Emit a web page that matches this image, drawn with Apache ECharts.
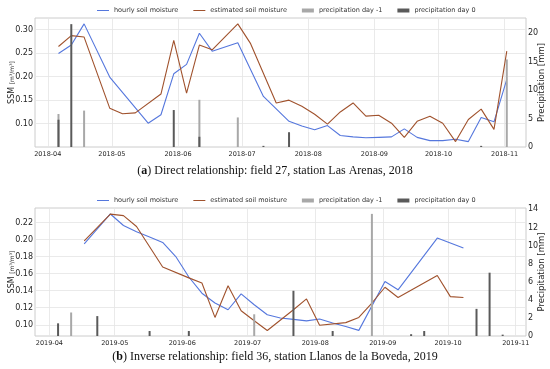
<!DOCTYPE html>
<html><head><meta charset="utf-8">
<script src="https://cdn.jsdelivr.net/npm/echarts@6/dist/echarts.min.js"></script>
<style>html,body{margin:0;padding:0;background:#fff}#c{width:550px;height:369px}</style>
</head><body><div id="c"></div>
<script>
// ---------- 2018 (a) ----------
const dates2018 = ['2018-04-06','2018-04-12','2018-04-18','2018-04-24','2018-04-30','2018-05-06','2018-05-12','2018-05-18','2018-05-24','2018-05-30','2018-06-05','2018-06-11','2018-06-17','2018-06-23','2018-06-29','2018-07-05','2018-07-11','2018-07-17','2018-07-23','2018-07-29','2018-08-04','2018-08-10','2018-08-16','2018-08-22','2018-08-28','2018-09-03','2018-09-09','2018-09-15','2018-09-21','2018-09-27','2018-10-03','2018-10-09','2018-10-15','2018-10-21','2018-10-27','2018-11-02'];
const hourly2018 = [0.249,0.267,0.312,null,0.199,null,null,0.101,0.119,0.206,0.226,0.292,0.254,null,0.272,null,0.158,null,0.105,0.095,0.087,0.096,0.075,0.072,0.070,0.071,0.072,0.089,0.071,0.064,0.064,0.067,0.062,0.113,0.104,0.194];
const estimated2018 = [0.264,0.287,0.284,null,0.133,0.121,0.123,null,0.163,0.277,0.165,0.267,0.257,null,0.312,0.270,null,0.144,0.150,0.137,0.120,0.099,0.125,0.144,0.116,0.118,0.101,0.071,0.105,0.116,0.101,0.062,0.109,0.131,0.088,0.254];
const precipPrevDates2018 = ['2018-04-06','2018-04-18','2018-06-11','2018-06-29','2018-11-02'];
const precipPrev2018 = [5.8,6.4,8.3,5.2,15.4];
const precipDayDates2018 = ['2018-04-06','2018-04-12','2018-05-30','2018-06-11','2018-07-11','2018-07-23','2018-10-21'];
const precipDay2018 = [4.8,21.6,6.5,1.8,0.2,2.6,0.2];
const monthTicks2018 = ['2018-04-01','2018-05-01','2018-06-01','2018-07-01','2018-08-01','2018-09-01','2018-10-01','2018-11-01'];
const ssmTicks2018 = [0.10,0.15,0.20,0.25,0.30];
const precipTicks2018 = [0,5,10,15,20];

// ---------- 2019 (b) ----------
const dates2019 = ['2019-04-17','2019-04-23','2019-04-29','2019-05-05','2019-05-11','2019-05-17','2019-05-23','2019-05-29','2019-06-04','2019-06-10','2019-06-16','2019-06-22','2019-06-28','2019-07-04','2019-07-10','2019-07-16','2019-07-22','2019-07-28','2019-08-03','2019-08-09','2019-08-15','2019-08-21','2019-08-27','2019-09-02','2019-09-08','2019-09-14','2019-09-20','2019-09-26','2019-10-02','2019-10-08'];
const hourly2019 = [0.195,null,0.230,0.2165,0.209,0.203,0.1966,0.180,0.156,0.137,0.1255,0.1176,0.1363,0.1235,0.1117,0.108,0.1063,0.1045,0.1067,0.102,0.098,0.0934,null,0.1508,0.141,null,null,0.2017,null,0.190];
const estimated2019 = [0.1985,null,0.2298,0.228,0.2153,null,0.1677,null,0.155,0.149,0.1086,0.1457,0.1164,0.1047,0.0933,null,0.1176,0.1303,0.0995,null,0.1025,0.1086,0.1255,0.144,0.132,null,null,0.1578,0.133,0.132];
const precipPrevDates2019 = ['2019-04-11','2019-07-04','2019-08-27'];
const precipPrev2019 = [2.6,2.4,13.5];
const precipDayDates2019 = ['2019-04-05','2019-04-23','2019-05-17','2019-06-04','2019-07-22','2019-08-09','2019-09-14','2019-09-20','2019-10-14','2019-10-20','2019-10-26'];
const precipDay2019 = [1.4,2.2,0.55,0.55,5.0,0.55,0.2,0.55,3.0,7.0,0.15];
const monthTicks2019 = ['2019-04-01','2019-05-01','2019-06-01','2019-07-01','2019-08-01','2019-09-01','2019-10-01','2019-11-01'];
const ssmTicks2019 = [0.10,0.12,0.14,0.16,0.18,0.20,0.22];
const precipTicks2019 = [0,2,4,6,8,10,12,14];

const legendNames = ['hourly soil moisture','estimated soil moisture','precipitation day -1','precipitation day 0'];
const captionA = ['a', ') Direct relationship: field 27, station Las Arenas, 2018'];
const captionB = ['b', ') Inverse relationship: field 36, station Llanos de la Boveda, 2019'];

// ---------- helpers ----------
const ts = s => Date.parse(s.length > 10 ? s + 'Z' : s + 'T00:00:00Z');
const pairs = (d, v) => d.map((x, i) => [ts(x), v[i]]).filter(p => p[1] !== null);
const fmtMonth = v => { const t = new Date(v); return t.getUTCFullYear() + '-' + String(t.getUTCMonth() + 1).padStart(2, '0'); };

const FONT = 'DejaVu Sans';
const TXT = '#262626';
const BLUE = '#5577dd', BROWN = '#a0522d', LIGHT = '#a8a8a8', DARK = '#5a5a5a';
const LINE_ICON = 'path://M0,0L0.01,0L0.01,0.01ZM0,1.45H12V2.55H0ZM11.99,3.99L12,3.99L12,4Z';

function xAxisFor(gi, min, max, ticks) {
  const tv = ticks.map(ts);
  return {
    type: 'value', gridIndex: gi, min: ts(min), max: ts(max), scale: true,
    axisLine: {show: false},
    axisTick: {show: false, customValues: tv},
    axisLabel: {customValues: tv, formatter: fmtMonth, margin: 4, hideOverlap: false,
      fontSize: 6.5, color: TXT, fontFamily: FONT},
    splitLine: {show: true, lineStyle: {color: '#e4e4e4', width: 0.8}}
  };
}
function yLeft(gi, min, max, ticks) {
  return {
    type: 'value', gridIndex: gi, position: 'left', min, max,
    name: 'SSM {f|[m³/m³]}', nameLocation: 'middle', nameGap: 19, nameRotate: 90,
    nameMoveOverlap: false,
    nameTextStyle: {fontSize: 8, color: TXT, fontFamily: FONT,
      rich: {f: {fontSize: 6, color: TXT, fontFamily: FONT}}},
    axisLine: {show: false},
    axisTick: {show: false, customValues: ticks},
    axisLabel: {customValues: ticks, margin: 2, formatter: v => v.toFixed(2),
      fontSize: 8, color: TXT, fontFamily: FONT},
    splitLine: {show: true, lineStyle: {color: '#e4e4e4', width: 0.8}}
  };
}
function yRight(gi, max, ticks) {
  return {
    type: 'value', gridIndex: gi, position: 'right', min: 0, max,
    name: 'Precipitation [mm]', nameLocation: 'middle', nameGap: 11.5, nameRotate: 90,
    nameMoveOverlap: false,
    nameTextStyle: {fontSize: 8.5, color: TXT, fontFamily: FONT},
    axisLine: {show: false},
    axisTick: {show: false, customValues: ticks},
    axisLabel: {customValues: ticks, margin: 2, fontSize: 8, color: TXT, fontFamily: FONT},
    splitLine: {show: false}
  };
}
function lineSeries(name, xi, yi, d, v, color) {
  return {type: 'line', name, xAxisIndex: xi, yAxisIndex: yi, data: pairs(d, v),
    symbol: 'none', connectNulls: true, lineStyle: {color, width: 1.1}, itemStyle: {color}, z: 2, animation: false};
}
function barSeries(name, xi, yi, d, v, color) {
  return {type: 'bar', name, xAxisIndex: xi, yAxisIndex: yi, data: pairs(d, v),
    barWidth: 2, barGap: '-100%', itemStyle: {color}, z: 3, animation: false};
}
function legendAt(top) {
  return {
    top, left: 92, itemWidth: 12, itemHeight: 4, itemGap: 15,
    textStyle: {fontSize: 6.5, color: '#333', fontFamily: FONT},
    data: [
      {name: legendNames[0], icon: LINE_ICON}, {name: legendNames[1], icon: LINE_ICON},
      {name: legendNames[2], icon: 'rect'}, {name: legendNames[3], icon: 'rect'}
    ],
    selectedMode: false
  };
}
function caption(y, parts) {
  return {
    type: 'text', left: 'center', top: y,
    style: {
      text: '(' + '{b|' + parts[0] + '}' + parts[1],
      font: '12px "Liberation Serif"', fill: '#111',
      rich: {b: {fontWeight: 'bold', fontSize: 12, fontFamily: 'Liberation Serif', fill: '#111'}}
    }
  };
}

const gridBase = {show: true, borderColor: '#cccccc', borderWidth: 1, containLabel: false, outerBoundsMode: 'none'};
const chart = echarts.init(document.getElementById('c'), null, {renderer: 'canvas'});
chart.setOption({
  animation: false,
  backgroundColor: '#fff',
  grid: [
    Object.assign({left: 35, top: 18, width: 491, height: 129}, gridBase),
    Object.assign({left: 35, top: 208, width: 491, height: 128}, gridBase)
  ],
  legend: [legendAt(2), legendAt(192)],
  xAxis: [
    xAxisFor(0, '2018-03-26', '2018-11-11', monthTicks2018),
    xAxisFor(1, '2019-03-25T10:00:00', '2019-11-05T17:00:00', monthTicks2019)
  ],
  yAxis: [
    yLeft(0, 0.0505, 0.3245, ssmTicks2018),
    yRight(0, 22.68, precipTicks2018),
    yLeft(1, 0.0868, 0.237, ssmTicks2019),
    yRight(1, 14.15, precipTicks2019)
  ],
  series: [
    lineSeries(legendNames[0], 0, 0, dates2018, hourly2018, BLUE),
    lineSeries(legendNames[1], 0, 0, dates2018, estimated2018, BROWN),
    barSeries(legendNames[2], 0, 1, precipPrevDates2018, precipPrev2018, LIGHT),
    barSeries(legendNames[3], 0, 1, precipDayDates2018, precipDay2018, DARK),
    lineSeries(legendNames[0], 1, 2, dates2019, hourly2019, BLUE),
    lineSeries(legendNames[1], 1, 2, dates2019, estimated2019, BROWN),
    barSeries(legendNames[2], 1, 3, precipPrevDates2019, precipPrev2019, LIGHT),
    barSeries(legendNames[3], 1, 3, precipDayDates2019, precipDay2019, DARK)
  ],
  graphic: [caption(165, captionA), caption(351, captionB)]
});
</script>
</body></html>
